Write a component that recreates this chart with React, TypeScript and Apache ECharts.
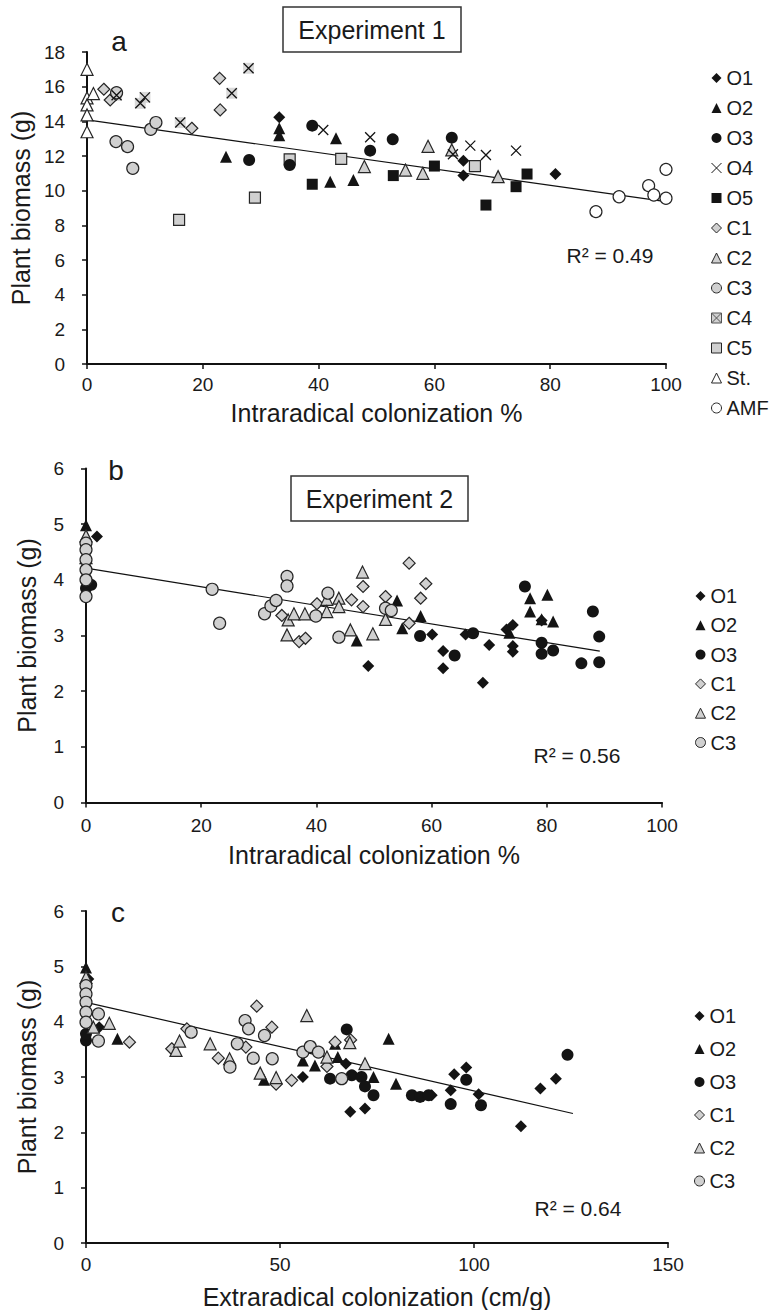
import React, { useEffect, useRef } from "react";
import * as echarts from "echarts";

const FONT = "'Liberation Sans', Arial, Helvetica, sans-serif";

// ---------------- Panel a (Experiment 1, intraradical colonization %) ----------------
const A_O1 = [[33.2, 14.23], [65.0, 11.73], [65.0, 10.87], [80.9, 10.96]];
const A_O2 = [[24.0, 11.96], [33.2, 13.6], [33.2, 13.2], [42.0, 10.52], [43.0, 13.02], [46.0, 10.62]];
const A_O3 = [[28.0, 11.77], [35.0, 11.48], [38.9, 13.75], [48.9, 12.31], [52.8, 12.96], [63.0, 13.06]];
const A_O4 = [[40.8, 13.5], [48.9, 13.08], [63.2, 12.1], [66.2, 12.6], [68.9, 12.06], [74.1, 12.31]];
const A_O5 = [[38.9, 10.37], [52.9, 10.87], [60.0, 11.42], [68.9, 9.17], [74.1, 10.23], [76.0, 10.96]];
const A_C1 = [[2.9, 15.85], [4.0, 15.23], [5.0, 15.55], [18.1, 13.6], [22.9, 16.48], [23.0, 14.66]];
const A_C2 = [[47.9, 11.39], [55.0, 11.19], [58.0, 11.0], [58.9, 12.56], [63.0, 12.35], [71.0, 10.81]];
const A_C3 = [[5.1, 15.65], [5.0, 12.83], [7.0, 12.54], [7.9, 11.29], [11.0, 13.54], [11.9, 13.93]];
const A_C4 = [[5.1, 15.5], [9.2, 15.04], [10.0, 15.38], [16.1, 13.93], [25.0, 15.62], [27.9, 17.06]];
const A_C5 = [[15.9, 8.31], [29.0, 9.6], [35.0, 11.81], [43.9, 11.83], [67.0, 11.42]];
const A_ST = [[0, 17.0], [0, 15.35], [0, 14.95], [0, 14.37], [0, 13.4], [1.1, 15.6]];
const A_AMF = [[87.9, 8.79], [91.9, 9.65], [97.0, 10.29], [97.9, 9.75], [100, 9.56], [100, 11.23]];
const TREND_A = [[0, 14.08], [100, 9.37]];

// ---------------- Panel b (Experiment 2, intraradical colonization %) ----------------
const B_O1 = [[1.9, 4.78], [49.0, 2.45], [60.1, 3.02], [62.0, 2.72], [62.0, 2.41], [65.9, 3.02], [68.9, 2.15],
  [70.0, 2.83], [73.0, 3.11], [74.1, 3.19], [74.1, 2.81], [74.1, 2.71], [79.1, 3.27]];
const B_O2 = [[0, 4.98], [0, 4.45], [47.0, 2.91], [54.0, 3.63], [54.9, 3.13], [58.1, 3.35], [73.5, 3.05],
  [77.1, 3.67], [77.1, 3.43], [79.1, 3.29], [80.1, 3.73], [81.1, 3.25]];
const B_O3 = [[0, 3.85], [0.9, 3.91], [58.0, 2.99], [64.0, 2.64], [67.2, 3.04], [76.2, 3.88], [79.1, 2.87],
  [79.1, 2.67], [81.1, 2.73], [86.0, 2.5], [88.0, 3.43], [89.1, 2.98], [89.1, 2.52]];
const B_C1 = [[34.0, 3.36], [37.0, 2.89], [38.1, 2.95], [40.1, 3.57], [46.1, 3.64], [48.1, 3.88], [48.1, 3.52],
  [52.0, 3.7], [56.1, 4.3], [56.1, 3.22], [58.1, 3.67], [59.0, 3.93]];
const B_C2 = [[0, 4.79], [0, 4.4], [34.9, 3.01], [35.1, 3.28], [36.1, 3.39], [38.0, 3.39], [41.8, 3.65],
  [41.8, 3.43], [43.9, 3.67], [43.9, 3.52], [45.9, 3.1], [48.0, 4.14], [49.8, 3.03], [52.0, 3.29]];
const B_C3 = [[0, 4.66], [0, 4.54], [0, 4.36], [0, 4.18], [0, 4.0], [0, 3.7], [21.9, 3.83], [23.2, 3.22],
  [31.0, 3.39], [32.1, 3.53], [33.0, 3.63], [34.9, 4.06], [34.9, 3.89], [39.9, 3.35], [42.0, 3.76],
  [43.9, 2.97], [52.0, 3.49], [53.0, 3.45]];
const TREND_B = [[0, 4.21], [89.2, 2.72]];

// ---------------- Panel c (Experiment 2, extraradical colonization cm/g) ----------------
const C_O1 = [[0.6, 4.77], [3.4, 3.9], [55.9, 3.0], [67.0, 3.24], [68.1, 2.37], [71.9, 2.43], [89.1, 2.67],
  [94.0, 2.76], [94.9, 3.05], [98.0, 3.17], [101.2, 2.69], [112.1, 2.11], [117.1, 2.79], [121.1, 2.97]];
const C_O2 = [[0, 4.98], [0, 4.4], [8.1, 3.69], [45.9, 2.95], [55.9, 3.3], [59.0, 3.21], [64.2, 3.6],
  [64.9, 3.36], [74.1, 3.0], [78.0, 3.69], [79.9, 2.88]];
const C_O3 = [[0, 3.66], [0, 3.78], [62.9, 2.97], [67.2, 3.86], [68.5, 3.03], [71.0, 3.0], [71.9, 2.83],
  [74.1, 2.67], [84.0, 2.67], [86.1, 2.64], [88.3, 2.67], [94.0, 2.51], [98.0, 2.95], [101.8, 2.49], [124.1, 3.4]];
const C_C1 = [[11.2, 3.63], [22.1, 3.51], [26.0, 3.87], [34.1, 3.34], [41.2, 3.54], [44.0, 4.28], [47.9, 3.9],
  [49.0, 2.87], [53.0, 2.94], [62.1, 3.19], [64.2, 3.63], [68.2, 3.67]];
const C_C2 = [[0, 4.8], [1.9, 3.9], [6.0, 3.97], [23.2, 3.48], [24.1, 3.65], [32.0, 3.6], [37.0, 3.33],
  [44.9, 3.07], [49.0, 2.99], [56.9, 4.11], [62.1, 3.36], [68.0, 3.62], [71.9, 3.24]];
const C_C3 = [[0, 4.65], [0, 4.5], [0, 4.35], [0, 4.17], [0, 3.99], [3.2, 4.14], [3.2, 3.65], [27.1, 3.81],
  [37.1, 3.18], [39.0, 3.6], [41.0, 4.02], [41.9, 3.87], [43.1, 3.34], [46.0, 3.75], [48.0, 3.33],
  [55.9, 3.45], [57.8, 3.55], [59.9, 3.45], [65.9, 2.97]];
const TREND_C = [[0, 4.35], [125.5, 2.34]];

// ---------------- labels ----------------
const LEGEND_A = ["O1", "O2", "O3", "O4", "O5", "C1", "C2", "C3", "C4", "C5", "St.", "AMF"];
const LEGEND_BC = ["O1", "O2", "O3", "C1", "C2", "C3"];
const X_TITLE_INTRA = "Intraradical colonization %";
const X_TITLE_EXTRA = "Extraradical colonization (cm/g)";
const Y_TITLE = "Plant biomass (g)";
const R2 = ["R\u00b2 = 0.49", "R\u00b2 = 0.56", "R\u00b2 = 0.64"];
const EXPERIMENTS = ["Experiment 1", "Experiment 2"];
const PANEL_LETTERS = ["a", "b", "c"];

const BLACK = "#141414";
const GRAY = "#d0d0d0";
const EDGE = "#262626";
const XPATH = "path://M0,0L10,10M10,0L0,10";

type Sty = { symbol: string; color: string; border: string; bw: number; size: number };
const STYLES: Record<string, Sty> = {
  O1: { symbol: "diamond", color: BLACK, border: BLACK, bw: 0, size: 12 },
  O2: { symbol: "triangle", color: BLACK, border: BLACK, bw: 0, size: 12 },
  O3: { symbol: "circle", color: BLACK, border: BLACK, bw: 0, size: 12 },
  O4: { symbol: XPATH, color: "transparent", border: BLACK, bw: 1.3, size: 10 },
  O5: { symbol: "rect", color: BLACK, border: BLACK, bw: 0, size: 11 },
  C1: { symbol: "diamond", color: GRAY, border: EDGE, bw: 1.2, size: 12 },
  C2: { symbol: "triangle", color: GRAY, border: EDGE, bw: 1.2, size: 12 },
  C3: { symbol: "circle", color: GRAY, border: EDGE, bw: 1.2, size: 12 },
  C4: { symbol: XPATH, color: "transparent", border: BLACK, bw: 1.3, size: 10 },
  C5: { symbol: "rect", color: GRAY, border: EDGE, bw: 1.2, size: 11 },
  "St.": { symbol: "triangle", color: "#ffffff", border: EDGE, bw: 1.2, size: 12 },
  AMF: { symbol: "circle", color: "#ffffff", border: EDGE, bw: 1.2, size: 12 },
};

function scatter(name: string, data: number[][], idx: number) {
  const s = STYLES[name];
  return {
    type: "scatter",
    name,
    xAxisIndex: idx,
    yAxisIndex: idx,
    data,
    symbol: s.symbol,
    symbolSize: s.size,
    itemStyle: { color: s.color, borderColor: s.border, borderWidth: s.bw, opacity: 1 },
    z: 3,
  };
}

function trend(data: number[][], idx: number) {
  return {
    type: "line",
    name: "trend" + idx,
    xAxisIndex: idx,
    yAxisIndex: idx,
    data,
    symbol: "none",
    lineStyle: { color: "#111", width: 1.2 },
    z: 2,
    silent: true,
  };
}

function legendData(names: string[]) {
  return names.map((n) => {
    const s = STYLES[n];
    if (n === "C4") {
      return {
        name: n,
        icon: "path://M0,0H10V10H0Z M0,0L10,10M10,0L0,10",
        itemStyle: { color: GRAY, borderColor: "#555", borderWidth: 1 },
      };
    }
    return {
      name: n,
      icon: s.symbol,
      itemStyle: { color: s.color, borderColor: s.border, borderWidth: s.bw > 0 ? 1 : 0 },
    };
  });
}

function legend(names: string[], left: number, top: number, gap: number) {
  return {
    orient: "vertical",
    left,
    top,
    itemWidth: 10,
    itemHeight: 10,
    itemGap: gap,
    selectedMode: false,
    data: legendData(names),
    textStyle: { fontFamily: FONT, fontSize: 20, color: "#1a1a1a", lineHeight: 20, padding: [0, 0, 0, 0] },
  };
}

const axisCommon = {
  axisLine: { show: true, onZero: false, lineStyle: { color: "#111", width: 2 } },
  axisTick: { show: true, length: 5, inside: false, lineStyle: { color: "#111", width: 1.5 } },
  splitLine: { show: false },
};

function xAxis(idx: number, max: number, interval: number, name: string, gap: number, margin: number) {
  return {
    type: "value",
    gridIndex: idx,
    min: 0,
    max,
    interval,
    name,
    nameLocation: "middle",
    nameGap: gap,
    nameTextStyle: { fontFamily: FONT, fontSize: 25, color: "#1a1a1a" },
    axisLabel: { fontFamily: FONT, fontSize: 19, color: "#1a1a1a", margin },
    ...axisCommon,
  };
}

function yAxis(idx: number, max: number, interval: number) {
  return {
    type: "value",
    gridIndex: idx,
    min: 0,
    max,
    interval,
    name: Y_TITLE,
    nameLocation: "middle",
    nameRotate: 90,
    nameGap: 47,
    nameTextStyle: { fontFamily: FONT, fontSize: 25, color: "#1a1a1a" },
    axisLabel: { fontFamily: FONT, fontSize: 19, color: "#1a1a1a", margin: 22 },
    ...axisCommon,
  };
}

function txt(text: string, x: number, y: number, size: number) {
  return {
    type: "text",
    x,
    y,
    style: { text, fontFamily: FONT, fontSize: size, fill: "#1a1a1a", align: "center", verticalAlign: "middle" },
    z: 10,
  };
}

function box(text: string, x: number, y: number, w: number, h: number) {
  return [
    {
      type: "rect",
      shape: { x, y, width: w, height: h },
      style: { fill: "#fff", stroke: "#333", lineWidth: 1.5 },
      z: 9,
    },
    txt(text, x + w / 2, y + h / 2, 25),
  ];
}

export default function App() {
  const ref = useRef<HTMLDivElement>(null);
  useEffect(() => {
    document.body.style.margin = "0";
    if (!ref.current) return;
    const chart = echarts.init(ref.current, undefined, { renderer: "svg" });

    const series: any[] = [];
    // panel a
    series.push(trend(TREND_A, 0));
    series.push({
      type: "scatter",
      name: "C4bg",
      xAxisIndex: 0,
      yAxisIndex: 0,
      data: A_C4,
      symbol: "rect",
      symbolSize: 11,
      itemStyle: { color: GRAY, borderWidth: 0 },
      z: 3,
    });
    const aSets: [string, number[][]][] = [
      ["C1", A_C1], ["C2", A_C2], ["C3", A_C3], ["C4", A_C4], ["C5", A_C5], ["St.", A_ST], ["AMF", A_AMF],
      ["O1", A_O1], ["O2", A_O2], ["O3", A_O3], ["O4", A_O4], ["O5", A_O5],
    ];
    aSets.forEach(([n, d]) => series.push(scatter(n, d, 0)));
    // panel b
    series.push(trend(TREND_B, 1));
    const bSets: [string, number[][]][] = [
      ["O1", B_O1], ["O2", B_O2], ["O3", B_O3], ["C1", B_C1], ["C2", B_C2], ["C3", B_C3],
    ];
    bSets.forEach(([n, d]) => series.push(scatter(n, d, 1)));
    // panel c
    series.push(trend(TREND_C, 2));
    const cSets: [string, number[][]][] = [
      ["O1", C_O1], ["O2", C_O2], ["O3", C_O3], ["C1", C_C1], ["C2", C_C2], ["C3", C_C3],
    ];
    cSets.forEach(([n, d]) => series.push(scatter(n, d, 2)));

    chart.setOption({
      animation: false,
      backgroundColor: "#ffffff",
      textStyle: { fontFamily: FONT },
      grid: [
        { left: 87, top: 52, width: 579, height: 312 },
        { left: 86, top: 468.5, width: 576, height: 334 },
        { left: 86, top: 911, width: 582, height: 332 },
      ],
      xAxis: [
        xAxis(0, 100, 20, X_TITLE_INTRA, 36, 11),
        xAxis(1, 100, 20, X_TITLE_INTRA, 40, 13),
        xAxis(2, 150, 50, X_TITLE_EXTRA, 41, 12),
      ],
      yAxis: [yAxis(0, 18, 2), yAxis(1, 6, 1), yAxis(2, 6, 1)],
      legend: [
        legend(LEGEND_A, 706, 63, 10),
        legend(LEGEND_BC, 690, 581, 9.3),
        legend(LEGEND_BC, 689, 1001, 13),
      ],
      graphic: [
        ...box(EXPERIMENTS[0], 283, 7, 178, 45),
        ...box(EXPERIMENTS[1], 291, 476, 177, 45),
        txt(PANEL_LETTERS[0], 119, 41, 28),
        txt(PANEL_LETTERS[1], 116, 470, 28),
        txt(PANEL_LETTERS[2], 118, 912, 28),
        txt(R2[0], 610, 255, 21),
        txt(R2[1], 577, 755, 21),
        txt(R2[2], 578, 1208, 21),
      ],
      series,
    });
    return () => chart.dispose();
  }, []);
  return (
    <div
      ref={ref}
      style={{ position: "absolute", left: 0, top: 0, width: 775, height: 1310, background: "#fff" }}
    />
  );
}
